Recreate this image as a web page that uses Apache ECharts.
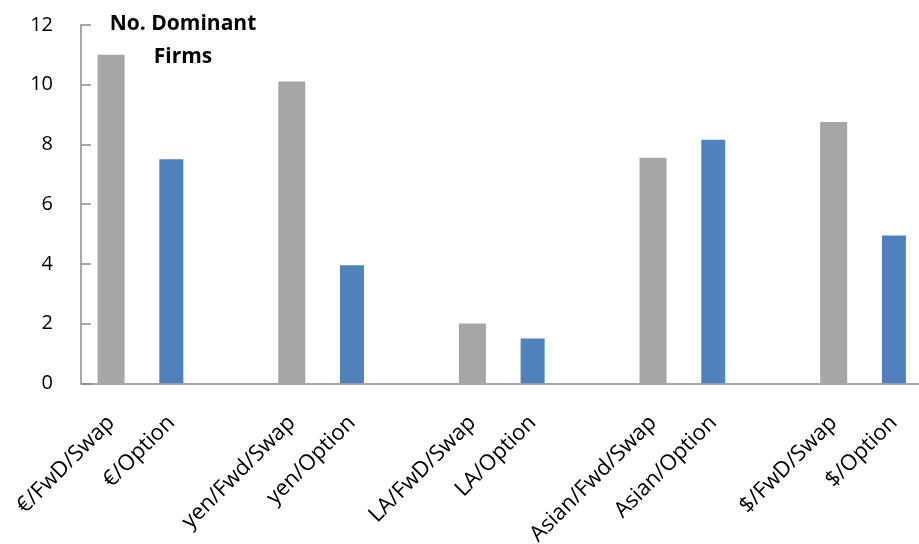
<!DOCTYPE html>
<html>
<head>
<meta charset="utf-8">
<script src="https://cdn.jsdelivr.net/npm/echarts@6/dist/echarts.min.js"></script>
<style>
  html, body { margin: 0; padding: 0; background: #ffffff; }
  #chart { width: 919px; height: 544px; }
</style>
</head>
<body>
<div id="chart"></div>
<script>
// Market segments; empty entries leave a gap between currency groups
const categories = [
  '€/FwD/Swap', '€/Option', '',
  'yen/Fwd/Swap', 'yen/Option', '',
  'LA/FwD/Swap', 'LA/Option', '',
  'Asian/Fwd/Swap', 'Asian/Option', '',
  '$/FwD/Swap', '$/Option'
];

// Number of dominant firms, forward/swap segments
const swapValues = [11, null, null, 10.1, null, null, 2, null, null, 7.55, null, null, 8.75, null];
// Number of dominant firms, option segments
const optionValues = [null, 7.5, null, null, 3.95, null, null, 1.5, null, null, 8.15, null, null, 4.95];

// Value-axis tick labels
const yTicks = [0, 2, 4, 6, 8, 10, 12];

const FONT = '"Open Sans"';
const AXIS_COLOR = '#8c8c8c';

const chart = echarts.init(document.getElementById('chart'), null, { renderer: 'canvas' });

chart.setOption({
  animation: false,
  backgroundColor: '#ffffff',
  title: {
    text: 'No. Dominant\nFirms',
    left: 178,
    top: 3,
    textAlign: 'center',
    textStyle: {
      fontFamily: FONT,
      fontWeight: 'bold',
      fontSize: 21,
      lineHeight: 33,
      color: '#000000'
    }
  },
  grid: {
    left: 81,
    top: 24.8,
    width: 843,
    height: 358.5,
    containLabel: false,
    outerBoundsMode: 'none'
  },
  xAxis: [
    {
      type: 'category',
      data: categories,
      boundaryGap: true,
      axisLine: { lineStyle: { color: AXIS_COLOR, width: 1.5 } },
      axisTick: { inside: true, length: 8, interval: 0, lineStyle: { color: AXIS_COLOR, width: 1.5 } },
      axisLabel: {
        interval: 0,
        rotate: 45,
        margin: 36,
        fontFamily: FONT,
        fontSize: 22,
        color: '#000000'
      },
      splitLine: { show: false }
    },
    {
      type: 'category',
      data: categories,
      show: false
    }
  ],
  yAxis: {
    type: 'value',
    min: yTicks[0],
    max: yTicks[yTicks.length - 1],
    interval: 2,
    axisLine: { show: true, lineStyle: { color: AXIS_COLOR, width: 1.5 } },
    axisTick: { show: true, inside: true, length: 10, lineStyle: { color: AXIS_COLOR, width: 1.5 } },
    axisLabel: {
      margin: 28,
      fontFamily: FONT,
      fontSize: 20,
      color: '#000000'
    },
    splitLine: { show: false }
  },
  series: [
    {
      name: 'Fwd/Swap',
      type: 'bar',
      xAxisIndex: 0,
      data: swapValues,
      barWidth: 27,
      itemStyle: { color: '#a6a6a6' }
    },
    {
      name: 'Option',
      type: 'bar',
      xAxisIndex: 1,
      data: optionValues,
      barWidth: 24,
      itemStyle: { color: '#4f81bd' }
    }
  ]
});
</script>
</body>
</html>
